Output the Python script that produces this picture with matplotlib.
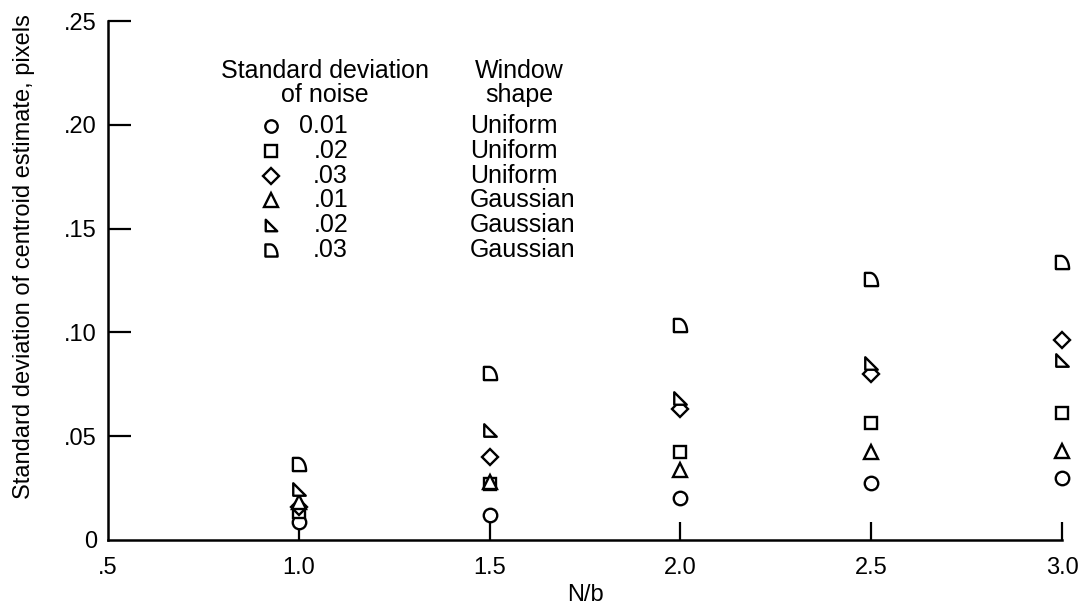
import numpy as np
import matplotlib
matplotlib.use("Agg")
import matplotlib.pyplot as plt
from matplotlib.path import Path

plt.rcParams['font.family'] = ['Liberation Sans', 'DejaVu Sans']

# ---------------- data ----------------
nb = [1.0, 1.5, 2.0, 2.5, 3.0]
unif_01 = [0.0087, 0.0120, 0.0202, 0.0275, 0.0299]
unif_02 = [0.0135, 0.0272, 0.0424, 0.0564, 0.0612]
unif_03 = [0.0159, 0.0400, 0.0631, 0.0800, 0.0963]
gaus_01 = [0.0183, 0.0278, 0.0337, 0.0424, 0.0429]
gaus_02 = [0.0246, 0.0530, 0.0684, 0.0853, 0.0867]
gaus_03 = [0.0366, 0.0804, 0.1036, 0.1257, 0.1339]

noise_labels = ['0.01', '.02', '.03', '.01', '.02', '.03']
window_labels = ['Uniform', 'Uniform', 'Uniform', 'Gaussian', 'Gaussian', 'Gaussian']

x_ticks = [0.5, 1.0, 1.5, 2.0, 2.5, 3.0]
x_ticklabels = ['.5', '1.0', '1.5', '2.0', '2.5', '3.0']
y_ticks = [0, 0.05, 0.10, 0.15, 0.20, 0.25]
y_ticklabels = ['0', '.05', '.10', '.15', '.20', '.25']

# ---------------- custom markers ----------------
right_tri = Path([(-1, -1), (-1, 1), (1, -1), (-1, -1)],
                 [Path.MOVETO, Path.LINETO, Path.LINETO, Path.CLOSEPOLY])
t = np.linspace(np.pi / 2, 0, 20)
arc = [(-0.2 + 1.2 * np.cos(a), -1 + 2 * np.sin(a)) for a in t]
qverts = [(-1, -1), (-1, 1)] + arc + [(-1, -1)]
qcodes = [Path.MOVETO] + [Path.LINETO] * (len(qverts) - 2) + [Path.CLOSEPOLY]
quarter = Path(qverts, qcodes)

series = [
    (unif_01, 'o', 9.7),
    (unif_02, 's', 8.8),
    (unif_03, 'D', 8.4),
    (gaus_01, '^', 10.5),
    (gaus_02, right_tri, 9.0),
    (gaus_03, quarter, 9.5),
]

W, H = 1089, 607
fig = plt.figure(figsize=(W / 100, H / 100), dpi=100)
L, R, B, T = 108, 1062, 540, 21
ax = fig.add_axes([L / W, (H - B) / H, (R - L) / W, (B - T) / H])

for vals, m, ms in series:
    ax.plot(nb, vals, linestyle='none', marker=m, markersize=ms,
            markerfacecolor='white', markeredgecolor='black',
            markeredgewidth=1.7, clip_on=False, zorder=3)

ax.set_xlim(0.5, 3.0)
ax.set_ylim(0, 0.25)
ax.set_xticks(x_ticks)
ax.set_xticklabels(x_ticklabels)
ax.set_yticks(y_ticks)
ax.set_yticklabels(y_ticklabels)

for s in ['top', 'right']:
    ax.spines[s].set_visible(False)
for s in ['left', 'bottom']:
    ax.spines[s].set_linewidth(1.8)

ax.tick_params(axis='x', direction='in', length=13, width=1.6,
               labelsize=17, pad=12)
ax.tick_params(axis='y', direction='in', length=16.5, width=1.6,
               labelsize=17, pad=8)
for tl in ax.get_xticklabels() + ax.get_yticklabels():
    tl.set_clip_on(False)
ax.xaxis.get_major_ticks()[0].tick1line.set_visible(False)
ax.yaxis.get_major_ticks()[0].tick1line.set_visible(False)

ax.set_xlabel('N/b', fontsize=17, labelpad=4)
fig.text(24 / W, 1 - 257 / H, 'Standard deviation of centroid estimate, pixels',
         rotation=90, ha='center', va='center', fontsize=17)

# ---------------- legend (manual table) ----------------
def fx(px):
    return (px - L) / (R - L)

def fy(py):
    return (B - py) / (B - T)

ax.text(fx(325), fy(71), 'Standard deviation', transform=ax.transAxes,
        ha='center', va='center', fontsize=18)
ax.text(fx(325), fy(95), 'of noise', transform=ax.transAxes,
        ha='center', va='center', fontsize=18)
ax.text(fx(519), fy(71), 'Window', transform=ax.transAxes,
        ha='center', va='center', fontsize=18)
ax.text(fx(519), fy(95), 'shape', transform=ax.transAxes,
        ha='center', va='center', fontsize=18)

for i, ((vals, m, ms), nl, wl) in enumerate(zip(series, noise_labels, window_labels)):
    py = 126 + 24.8 * i
    ax.plot([fx(271)], [fy(py)], transform=ax.transAxes, linestyle='none',
            marker=m, markersize=ms * 0.92, markerfacecolor='white',
            markeredgecolor='black', markeredgewidth=1.7, clip_on=False)
    ax.text(fx(348), fy(py), nl, transform=ax.transAxes,
            ha='right', va='center', fontsize=18)
    ax.text(fx(470), fy(py), wl, transform=ax.transAxes,
            ha='left', va='center', fontsize=18)

fig.savefig('out.png', dpi=100)
